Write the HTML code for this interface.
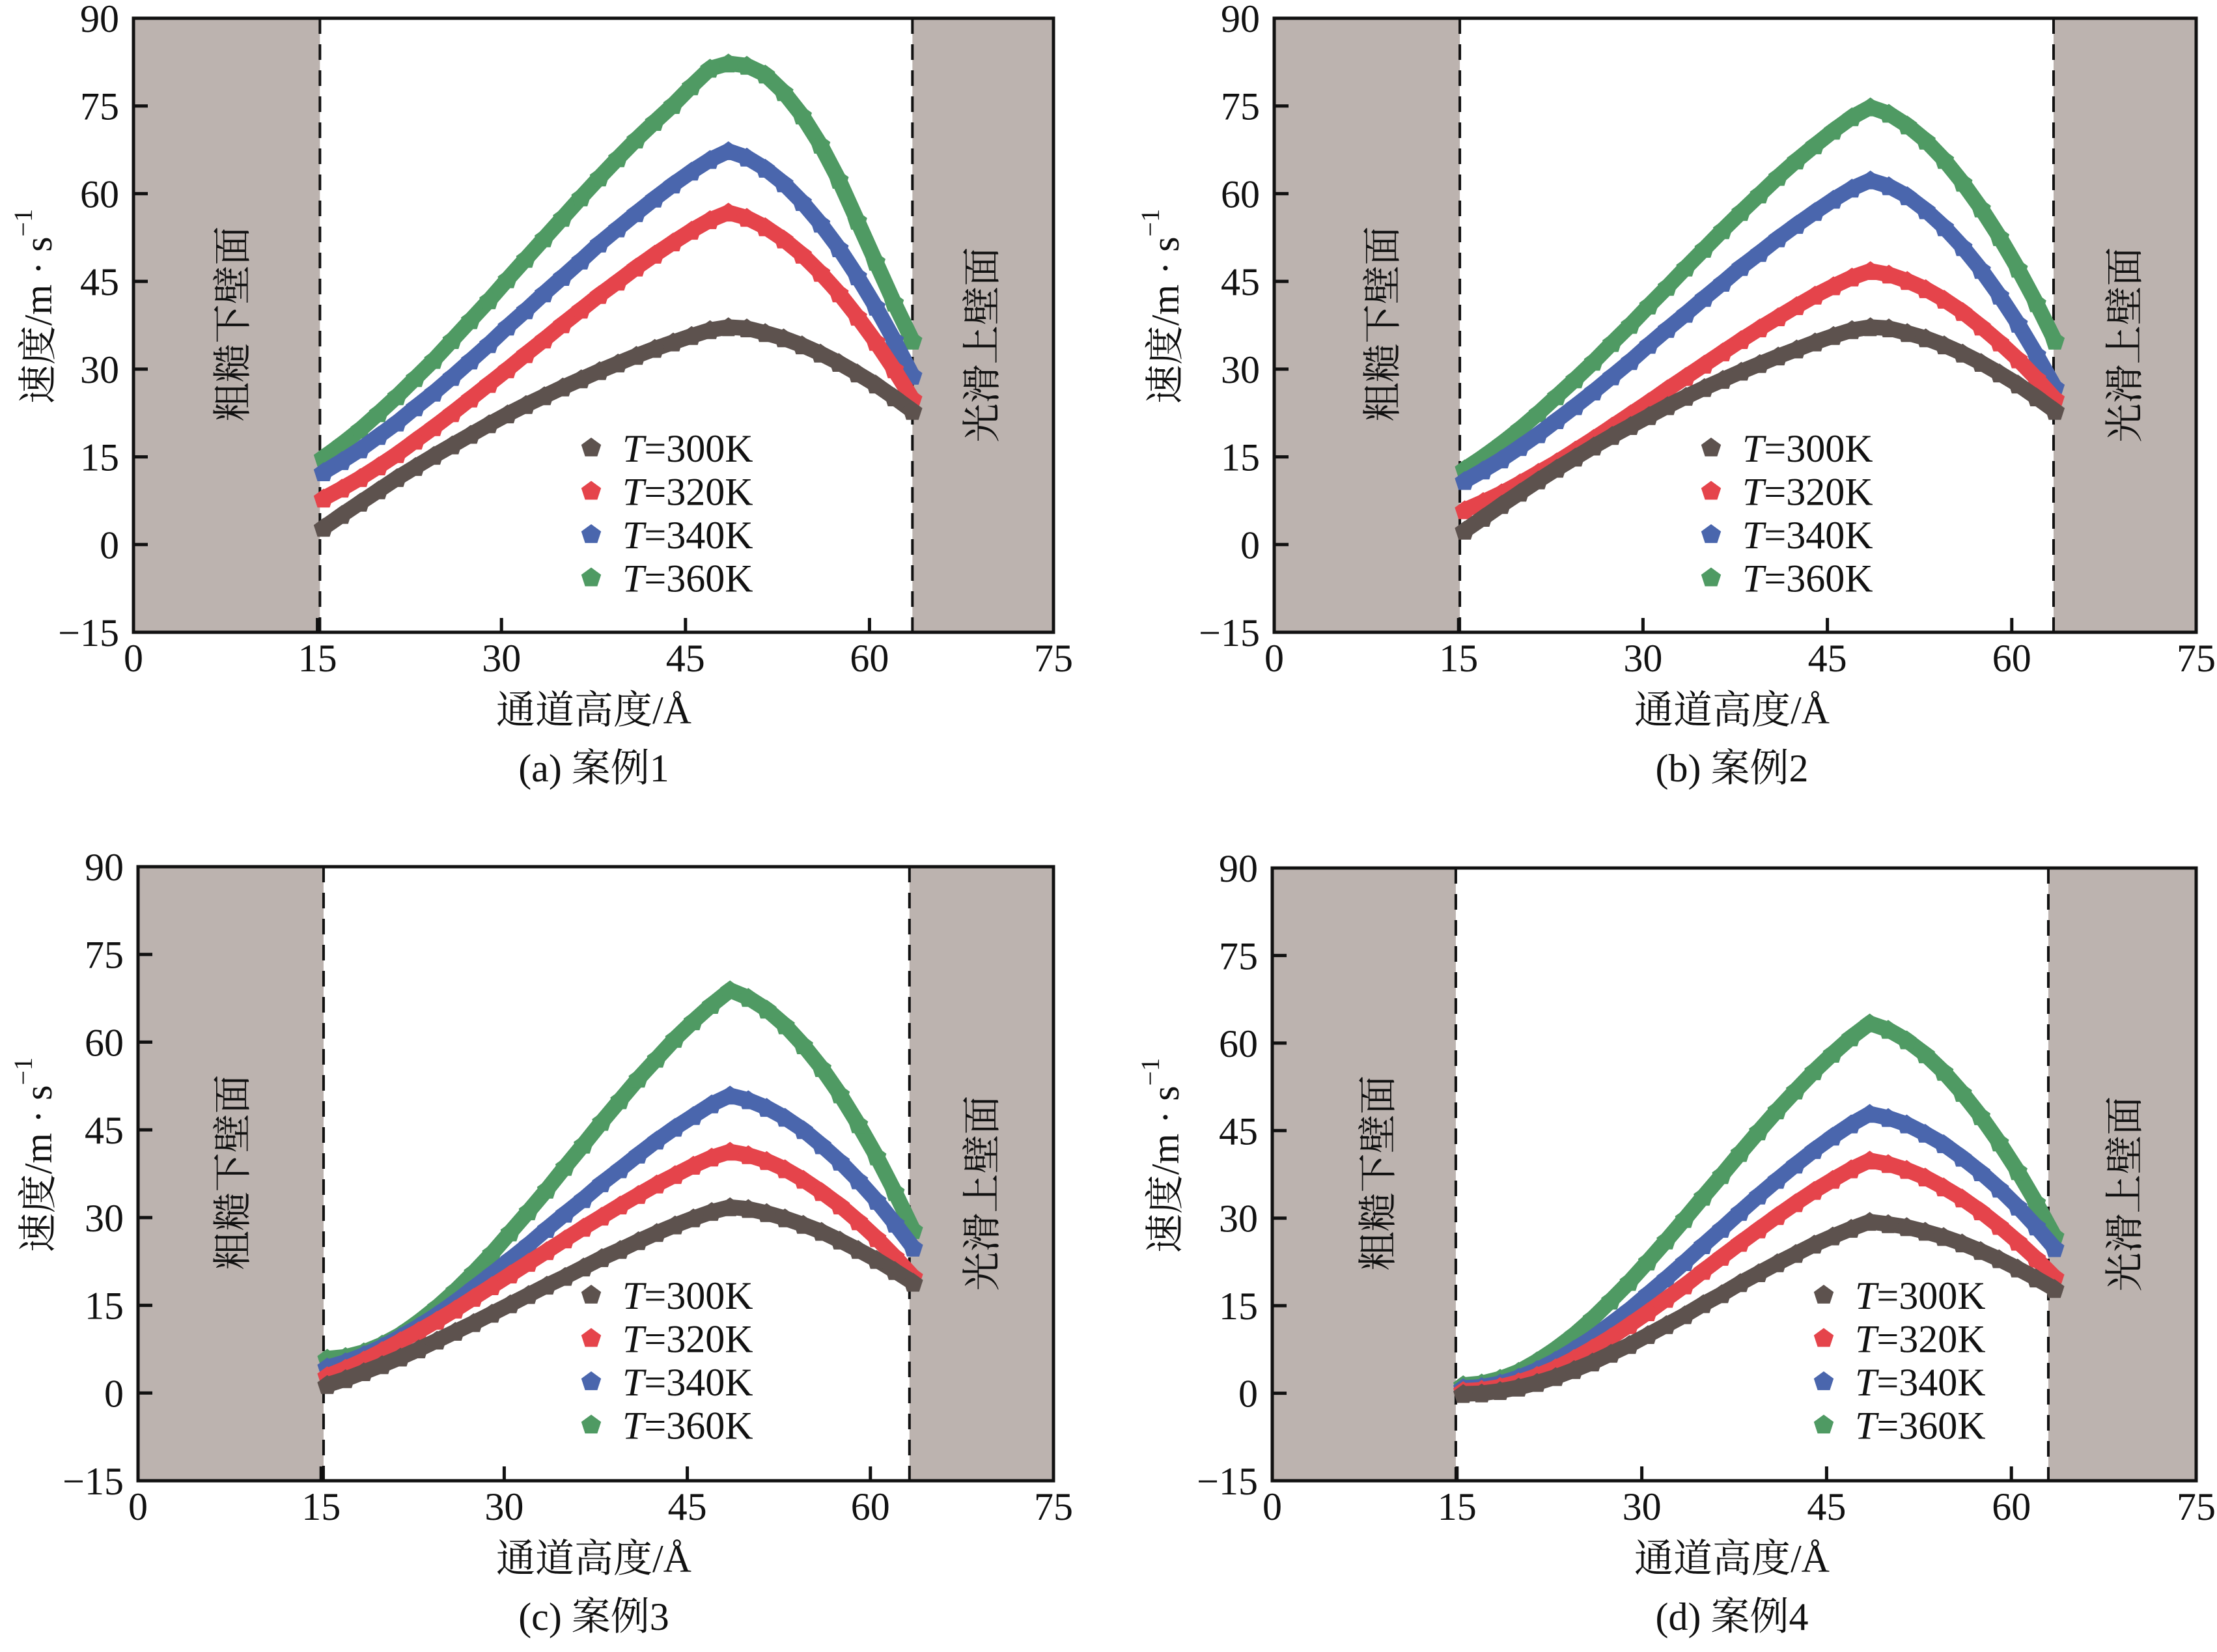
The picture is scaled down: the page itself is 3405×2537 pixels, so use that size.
<!DOCTYPE html>
<html><head><meta charset="utf-8"><style>
html,body{margin:0;padding:0;background:#fff;}
svg{display:block;}
text{font-family:"Liberation Serif","Noto Serif CJK SC",serif;fill:#111;}
</style></head><body>
<svg id="chart" width="3405" height="2537" viewBox="0 0 3405 2537" xmlns="http://www.w3.org/2000/svg"></svg>
<script>
const xs=[15.5,17,18.5,20,21.5,23,24.5,26,27.5,29,30.5,32,33.5,35,36.5,38,39.5,41,42.5,44,45.5,47,48.5,50,51.5,53,54.5,56,57.5,59,60.5,62,63.5];
const a300=[3.0,5.2,7.3,9.4,11.5,13.4,15.3,17.1,18.9,20.7,22.4,24.0,25.5,27.0,28.4,29.8,31.1,32.4,33.6,34.7,35.8,36.8,37.3,37.1,36.3,35.4,34.2,32.8,31.2,29.4,27.5,25.3,23.0];
const a320=[8,9.7,11.5,13.5,15.6,17.9,20.2,22.6,25.1,27.6,30.1,32.7,35.2,37.8,40.3,42.8,45.1,47.5,49.7,51.8,53.8,55.6,56.9,56.0,54.4,52.3,49.7,46.6,43.1,39.1,34.8,30.1,25];
const a340=[12.5,14.4,16.4,18.7,21.0,23.6,26.1,28.8,31.6,34.4,37.4,40.2,43.1,45.9,48.7,51.6,54.2,56.8,59.3,61.7,63.9,65.9,67.4,66.3,64.4,61.9,58.7,55.0,50.8,46.0,40.8,35.1,29];
const a360=[15,17.3,19.8,22.6,25.5,28.6,31.7,35.1,38.5,41.9,45.5,49.0,52.5,56.0,59.5,62.9,66.2,69.4,72.4,75.3,78.5,81.5,82.4,82.0,80.5,77.5,73.5,68.5,62.5,55.5,48.5,41.5,35.0];
const b300=[2.5,4.7,6.9,9.0,11.1,13.1,15.0,16.9,18.7,20.4,22.1,23.8,25.4,26.9,28.3,29.7,31.0,32.3,33.5,34.7,35.8,36.8,37.3,37.1,36.3,35.4,34.2,32.8,31.2,29.4,27.5,25.3,23.0];
const b320=[6,7.4,8.9,10.6,12.4,14.2,16.2,18.2,20.3,22.4,24.5,26.7,28.8,30.9,33.0,35.1,37.1,39.0,40.9,42.7,44.3,45.8,46.9,46.3,45.2,43.8,42.0,39.9,37.4,34.7,31.8,28.5,25];
const b340=[11,12.8,14.7,16.8,19.0,21.4,23.8,26.3,28.9,31.5,34.3,37.0,39.6,42.3,44.9,47.6,50.0,52.5,54.8,57.0,59.1,61.0,62.4,61.4,59.7,57.3,54.4,51.0,47.1,42.7,37.9,32.6,27];
const b360=[13,15.1,17.4,19.9,22.6,25.5,28.4,31.4,34.6,37.7,41.0,44.2,47.5,50.7,53.9,57.0,60.0,63.0,65.8,68.4,70.9,73.2,74.9,73.8,71.8,69.2,65.9,62.0,57.6,52.7,47.3,41.4,35];
const c300=[1.5,2.5,3.7,4.9,6.2,7.6,9.1,10.6,12.1,13.7,15.3,16.9,18.5,20.0,21.6,23.2,24.6,26.1,27.5,28.8,30.0,31.1,31.9,31.6,30.9,30.0,28.9,27.7,26.2,24.6,22.9,21.0,19];
const c320=[3,4.3,5.7,7.3,9.0,10.7,12.5,14.4,16.4,18.4,20.4,22.4,24.4,26.4,28.4,30.3,32.2,34.0,35.8,37.4,39.0,40.4,41.4,40.8,39.8,38.4,36.6,34.5,32.2,29.5,26.6,23.4,20];
const c340=[4.5,5.4,6.6,8.0,9.7,11.5,13.5,15.7,18.1,20.5,23.0,25.5,28.2,30.8,33.3,36.0,38.4,40.9,43.3,45.5,47.5,49.5,51.0,50.2,48.9,47.2,45.1,42.5,39.7,36.5,33.0,29.1,25];
const c360=[6,6.3,7.1,8.4,10.1,12.3,14.8,17.6,20.7,24.0,27.6,31.2,34.9,38.8,42.6,46.5,50.2,53.9,57.3,60.7,63.7,66.5,69,67.7,65.7,63.0,59.6,55.7,51.2,46.1,40.6,34.5,28];
const d300=[0,0.1,0.5,1.1,1.9,2.9,4.1,5.4,6.9,8.4,10.1,11.8,13.5,15.4,17.1,19.0,20.7,22.4,24.0,25.6,27.0,28.3,29.5,29.1,28.6,27.8,26.9,25.8,24.5,23.1,21.5,19.8,18];
const d320=[0.5,0.7,1.2,2.0,3.1,4.4,6.0,7.8,9.7,11.8,14.0,16.3,18.6,21.1,23.5,25.9,28.2,30.5,32.7,34.8,36.7,38.5,40,39.4,38.4,37.1,35.4,33.5,31.3,28.8,26.1,23.2,20];
const d340=[1,1.2,1.8,2.8,4.1,5.7,7.6,9.6,12.0,14.4,17.1,19.8,22.6,25.5,28.3,31.2,34.0,36.7,39.3,41.8,44.1,46.2,48,47.3,46.2,44.6,42.8,40.5,38.0,35.2,32.1,28.7,25];
const d360=[1.5,1.8,2.6,3.8,5.6,7.7,10.1,12.9,16.0,19.2,22.7,26.3,30.0,33.8,37.5,41.3,45.0,48.6,52.0,55.3,58.3,61.1,63.5,62.4,60.6,58.2,55.2,51.6,47.6,43.1,38.2,32.8,27];
const seriesLabels=["300K","320K","340K","360K"];
const seriesColors=["#5d524e","#e5444b","#4a66ad","#4f9a63"];
const xTicks=[0,15,30,45,60,75];
const yTicks=[-15,0,15,30,45,60,75,90];
const wallsA=[15.2,63.5], wallsB=[15.1,63.4], wallsC=[15.2,63.2], wallsD=[14.9,63.0];

const NS="http://www.w3.org/2000/svg";
const svg=document.getElementById('chart');
function el(tag,attrs,parent,txt){const e=document.createElementNS(NS,tag);for(const k in attrs)e.setAttribute(k,attrs[k]);if(txt!==undefined)e.textContent=txt;(parent||svg).appendChild(e);return e;}

const panels=[
 {id:'a',L:205,R:1618,T:28,B:971,walls:wallsA,data:[a300,a320,a340,a360],leg:[908,688],ylab:59,lw:358,rw:1509,cx:912,cap:'(a) 案例1'},
 {id:'b',L:1957,R:3373,T:28,B:971,walls:wallsB,data:[b300,b320,b340,b360],leg:[2628,688],ylab:1790,lw:2124,rw:3264,cx:2660,cap:'(b) 案例2'},
 {id:'c',L:212,R:1618,T:1331,B:2274,walls:wallsC,data:[c300,c320,c340,c360],leg:[908,1989],ylab:59,lw:358,rw:1509,cx:912,cap:'(c) 案例3'},
 {id:'d',L:1954,R:3373,T:1333,B:2274,walls:wallsD,data:[d300,d320,d340,d360],leg:[2801,1989],ylab:1790,lw:2117,rw:3264,cx:2660,cap:'(d) 案例4'}
];
function pent(g,cx,cy,r,color){
  let pts=[];for(let k=0;k<5;k++){const a=-Math.PI/2+k*2*Math.PI/5;pts.push((cx+r*Math.cos(a)).toFixed(1)+','+(cy+r*Math.sin(a)+2).toFixed(1));}
  return el('polygon',{points:pts.join(' '),fill:color},g);
}
panels.forEach(p=>{
  const g=el('g',{});
  
  
  const sx=v=>p.L+(v-0)/(75-0)*(p.R-p.L);
  const sy=v=>p.B-(v-(-15))/(90-(-15))*(p.B-p.T);
  const lw=el('rect',{x:p.L,y:p.T,width:sx(p.walls[0])-p.L,height:p.B-p.T,fill:'#bcb3af'},g);
  
  
  const rw=el('rect',{x:sx(p.walls[1]),y:p.T,width:p.R-sx(p.walls[1]),height:p.B-p.T,fill:'#bcb3af'},g);
  
  
  p.walls.forEach((w,i)=>{
    const dl=el('line',{x1:sx(w),x2:sx(w),y1:p.T,y2:p.B,stroke:'#111','stroke-width':4,'stroke-dasharray':'24,16'},g);
    
    
  });
  const t1=el('text',{x:0,y:0,'font-size':60,'text-anchor':'middle','dominant-baseline':'central',transform:`translate(${p.lw},${(p.T+p.B)/2-2}) rotate(-90)`},g,'粗糙下壁面');
  
  
  const t2=el('text',{x:0,y:0,'font-size':60,'text-anchor':'middle','dominant-baseline':'central',transform:`translate(${p.rw},${(p.T+p.B)/2+30}) rotate(-90)`},g,'光滑上壁面');
  
  
  const fr=el('rect',{x:p.L,y:p.T,width:p.R-p.L,height:p.B-p.T,fill:'none',stroke:'#111','stroke-width':5},g);
  
  
  xTicks.forEach(v=>{
    if(v>0&&v<75){el('line',{x1:sx(v),x2:sx(v),y1:p.B,y2:p.B-22,stroke:'#111','stroke-width':5},g);}
    const t=el('text',{x:sx(v),y:p.B+60,'font-size':60,'text-anchor':'middle'},g,String(v));
    
    
  });
  yTicks.forEach(v=>{
    if(v>-15&&v<90){el('line',{x1:p.L,x2:p.L+22,y1:sy(v),y2:sy(v),stroke:'#111','stroke-width':5},g);}
    const t=el('text',{x:p.L-22,y:sy(v)+21,'font-size':60,'text-anchor':'end'},g,v<0?'\u2212'+(-v):String(v));
    
    
  });
  for(let s=p.data.length-1;s>=0;s--){
    const sg=el('g',{},g);
    
    
    const pts=p.data[s].map((v,i)=>sx(xs[i]).toFixed(1)+','+(sy(v)+1).toFixed(1)).join(' ');
    const band=el('polyline',{points:pts,fill:'none',stroke:seriesColors[s],'stroke-width':24,'stroke-linejoin':'round','stroke-linecap':'round'},sg);
    
    
    p.data[s].forEach((v,i)=>{
      const m=pent(sg,sx(xs[i]),sy(v),16,seriesColors[s]);
      
      
    });
  }
  seriesLabels.forEach((lab,s)=>{
    const y=p.leg[1]+s*66.5;
    const lg=el('g',{},g);
    
    
    pent(lg,p.leg[0],y-2,16,seriesColors[s]);
    const t=el('text',{x:p.leg[0]+48,y:y+21,'font-size':60},lg);
    el('tspan',{'font-style':'italic'},t,'T');
    el('tspan',{},t,'='+lab);
  });
  const yt=el('text',{x:0,y:0,'font-size':60,'text-anchor':'middle','dominant-baseline':'central',transform:`translate(${p.ylab},${(p.T+p.B)/2-29}) rotate(-90)`},g);
  
  
  el('tspan',{},yt,'速度/m · s');
  el('tspan',{'font-size':40,dy:-24},yt,'\u22121');
  const xt=el('text',{x:p.cx,y:p.B+140,'font-size':60,'text-anchor':'middle'},g,'通道高度/Å');
  
  
  const cp=el('text',{x:p.cx,y:p.B+229,'font-size':60,'text-anchor':'middle'},g,p.cap);
  
  
});
</script>
</body></html>
